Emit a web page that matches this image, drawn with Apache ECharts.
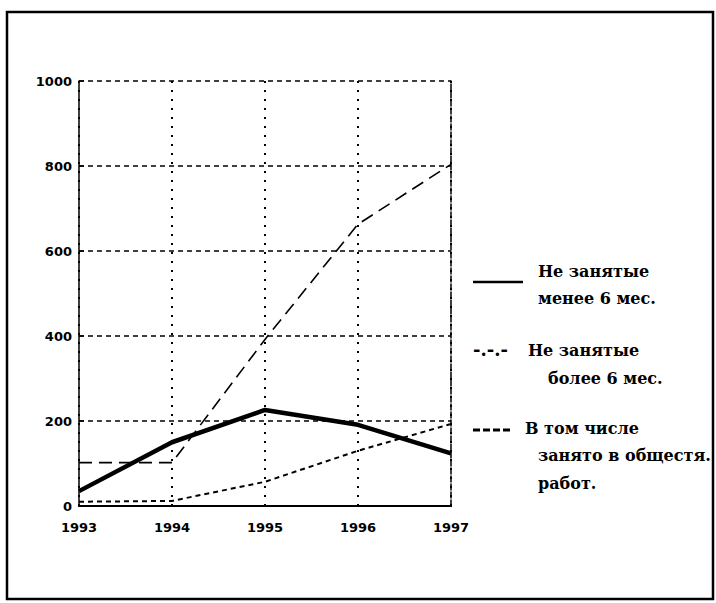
<!DOCTYPE html>
<html><head><meta charset="utf-8">
<script src="https://cdn.jsdelivr.net/npm/echarts@6/dist/echarts.min.js"></script>
<style>html,body{margin:0;padding:0;background:#fff}#c{width:716px;height:603px}</style>
</head><body><div id="c"></div>
<script>
const years = ['1993', '1994', '1995', '1996', '1997'];
const lessThan6 = [35, 150, 226, 191, 124];
const moreThan6 = [102, 102, 392, 663, 804];
const publicWorks = [10, 12, 57, 130, 193];
const yTicks = [0, 200, 400, 600, 800, 1000];

const legendLines = [
  ['Не занятые', 'менее 6 мес.'],
  ['Не занятые', 'более 6 мес.'],
  ['В том числе', 'занято в общестя.', 'работ.']
];

const chart = echarts.init(document.getElementById('c'), null, {renderer: 'svg'});
const numFont = {fontFamily: 'DejaVu Sans', fontWeight: 'bold', fontSize: 13, color: '#000'};
const serif = {fontFamily: 'DejaVu Serif', fontWeight: 'bold', fontSize: 16, fill: '#000'};

function txt(x, y, s, extra) {
  return {type: 'text', left: x, top: y, style: Object.assign({text: s}, serif, extra || {})};
}

chart.setOption({
  animation: false,
  backgroundColor: '#fff',
  grid: {left: 79, right: 265, top: 81, bottom: 97, containLabel: false},
  xAxis: [{
    type: 'category', data: years, boundaryGap: false, position: 'bottom',
    axisLine: {lineStyle: {color: '#000', width: 2}},
    axisTick: {show: false},
    axisLabel: Object.assign({margin: 15}, numFont),
    splitLine: {show: true, lineStyle: {color: '#000', width: 2, type: [2, 7]}}
  }, {
    type: 'category', data: years, boundaryGap: false, position: 'top',
    axisLine: {lineStyle: {color: '#000', width: 2}},
    axisTick: {show: false}, axisLabel: {show: false}, splitLine: {show: false}
  }],
  yAxis: [{
    type: 'value', min: 0, max: 1000, interval: 200, position: 'left',
    axisLine: {show: true, lineStyle: {color: '#000', width: 1.5}},
    axisTick: {show: true, inside: true, length: 5, lineStyle: {color: '#000', width: 1.5}},
    axisLabel: Object.assign({margin: 7, formatter: v => yTicks.includes(v) ? String(v) : ''}, numFont),
    splitLine: {show: true, lineStyle: {color: '#000', width: 1.5, type: [5, 4]}}
  }, {
    type: 'value', min: 0, max: 1000, interval: 200, position: 'right',
    axisLine: {show: true, lineStyle: {color: '#000', width: 1.5, type: [6, 2]}},
    axisTick: {show: false}, axisLabel: {show: false}, splitLine: {show: false}
  }],
  series: [
    {name: 'Не занятые менее 6 мес.', type: 'line', data: lessThan6, symbol: 'none',
     lineStyle: {color: '#000', width: 4.5}, z: 5},
    {name: 'Не занятые более 6 мес.', type: 'line', data: moreThan6, symbol: 'none',
     lineStyle: {color: '#000', width: 1.6, type: [13, 7]}, z: 4},
    {name: 'В том числе занято в общестя. работ.', type: 'line', data: publicWorks, symbol: 'none',
     lineStyle: {color: '#000', width: 2, type: [5, 4]}, z: 4}
  ],
  graphic: [
    {type: 'rect', shape: {x: 7, y: 12, width: 706, height: 587},
     style: {fill: 'none', stroke: '#000', lineWidth: 2.5}, silent: true},
    {type: 'line', shape: {x1: 473, y1: 282, x2: 523, y2: 282}, style: {stroke: '#000', lineWidth: 2.5}},
    txt(538, 263, legendLines[0][0]),
    txt(538, 290, legendLines[0][1]),
    txt(473, 340, '-.-.-', {fontSize: 18}),
    txt(528, 342, legendLines[1][0]),
    txt(548, 370, legendLines[1][1]),
    {type: 'line', shape: {x1: 473, y1: 430, x2: 512, y2: 430},
     style: {stroke: '#000', lineWidth: 3, lineDash: [7, 3]}},
    txt(525, 420, legendLines[2][0]),
    txt(538, 447, legendLines[2][1]),
    txt(538, 475, legendLines[2][2])
  ]
});
</script></body></html>
